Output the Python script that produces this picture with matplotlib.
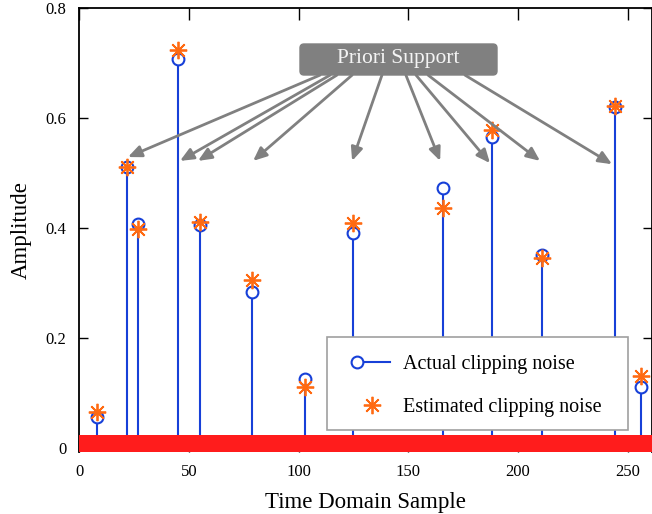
import matplotlib
matplotlib.use("Agg")
import matplotlib.pyplot as plt
from matplotlib.lines import Line2D
from matplotlib.patches import FancyBboxPatch, Rectangle
from matplotlib.transforms import IdentityTransform
import numpy as np

# ---- data ----
sample_idx = [8, 22, 27, 45, 55, 79, 103, 125, 166, 188, 211, 244, 256]
actual = [0.057, 0.511, 0.407, 0.707, 0.405, 0.284, 0.125, 0.390, 0.472, 0.566, 0.351, 0.620, 0.111]
estimated = [0.066, 0.511, 0.398, 0.724, 0.410, 0.305, 0.111, 0.409, 0.436, 0.578, 0.345, 0.622, 0.131]
x_ticks = [0, 50, 100, 150, 200, 250]
y_ticks = [0, 0.2, 0.4, 0.6, 0.8]
y_ticklabels = ["0", "0.2", "0.4", "0.6", "0.8"]
annot_text = "Priori Support"
legend_labels = ['Actual clipping noise', 'Estimated clipping noise']
# arrow targets (data coords) and arrow origins on the label box
arrow_ends = [(22.3, 0.529), (46.0, 0.522), (54.2, 0.522), (79.3, 0.522), (124.4, 0.522),
              (164.5, 0.522), (187.2, 0.518), (210.0, 0.522), (242.8, 0.516)]
arrow_starts_x = [109.8, 114.4, 117.5, 124.4, 138.0, 148.9, 153.5, 159.0, 175.8]
arrow_start_y = 0.678

plt.rcParams['font.family'] = ['Liberation Serif', 'DejaVu Serif']

blue = '#1740d8'
orange = '#ff6a12'
red = '#ff1c1c'
grey = '#808080'

W, H = 652, 514
fig = plt.figure(figsize=(W/100, H/100), dpi=100)
ax = fig.add_axes([79/W, 1-452/H, 1-79/W, (452-8)/H])

ax.set_xlim(0, 261)
ax.set_ylim(-0.0073, 0.8)

ax.vlines(sample_idx, 0, actual, color=blue, lw=1.5, zorder=2)
ln_act, = ax.plot(sample_idx, actual, 'o', mfc='white', mec=blue, mew=1.5, ms=8.5, zorder=3)
ln_est, = ax.plot(sample_idx, estimated, ls='none', marker=(8, 2, 0), color=orange,
                  mec=orange, mew=1.3, ms=12.5, zorder=4)

# red bar at zero
ax.axhspan(-0.0073, 0.0236, color=red, zorder=5, lw=0)

# annotations
for (xe, ye), xs in zip(arrow_ends, arrow_starts_x):
    ax.annotate('', xy=(xe, ye), xytext=(xs, arrow_start_y),
                arrowprops=dict(arrowstyle='-|>,head_length=0.8,head_width=0.35',
                                color=grey, lw=2, shrinkA=0, shrinkB=0), zorder=6)
# label box (figure pixel coordinates)
box = FancyBboxPatch((300, H-75), 197, 31, boxstyle='round,pad=0,rounding_size=4',
                     fc=grey, ec=grey, transform=IdentityTransform(), zorder=7)
fig.patches.append(box)
fig.text(398.5/W, 1-58/H, annot_text, ha='center', va='center', fontsize=15.5,
         color='#f4f4f4', zorder=8)

ax.set_xticks(x_ticks)
ax.set_yticks(y_ticks)
ax.set_yticklabels(y_ticklabels)
ax.tick_params(axis='x', direction='in', length=8.6, width=1, labelsize=12, top=True, pad=9)
ax.tick_params(axis='y', direction='in', length=6.5, width=1, labelsize=12, right=True, pad=9)
for s in ['left', 'top', 'right', 'bottom']:
    ax.spines[s].set_linewidth(1.3)
ax.spines['bottom'].set_visible(False)

ax.set_xlabel('Time Domain Sample', fontsize=16.5, labelpad=8)
ax.set_ylabel('Amplitude', fontsize=16.5, labelpad=10)


class CircleLineHandler:
    def legend_artist(self, legend, orig_handle, fontsize, handlebox):
        x0, y0 = -handlebox.xdescent, -handlebox.ydescent
        w, h = handlebox.width, handlebox.height
        yc = y0 + h / 2
        line = Line2D([x0 + 20, x0 + w - 1], [yc, yc], color=blue, lw=1.5)
        mk = Line2D([x0 + 20], [yc], marker='o', mfc='white', mec=blue, mew=1.5, ms=8.5)
        handlebox.add_artist(line)
        handlebox.add_artist(mk)
        return line


class StarHandler:
    def legend_artist(self, legend, orig_handle, fontsize, handlebox):
        x0, y0 = -handlebox.xdescent, -handlebox.ydescent
        h = handlebox.height
        mk = Line2D([x0 + 31], [y0 + h / 2], ls='none', marker=(8, 2, 0), color=orange,
                    mec=orange, mew=1.3, ms=12.5)
        handlebox.add_artist(mk)
        return mk


# legend frame drawn explicitly (pixel coordinates)
frame = Rectangle((327, H-430), 301, 93, transform=IdentityTransform(), fc='white',
                  ec='#a0a0a0', lw=1.2, zorder=9)
fig.patches.append(frame)

leg = fig.legend(handles=[ln_act, ln_est], labels=legend_labels,
                 handler_map={ln_act: CircleLineHandler(), ln_est: StarHandler()},
                 loc='upper left',
                 bbox_to_anchor=(329, H-355), bbox_transform=IdentityTransform(),
                 borderaxespad=0, borderpad=0,
                 fontsize=14.5, frameon=False, labelspacing=1.2,
                 handlelength=3.1, handletextpad=0.55)
leg.set_zorder(10)

fig.savefig('out.png', dpi=100)
